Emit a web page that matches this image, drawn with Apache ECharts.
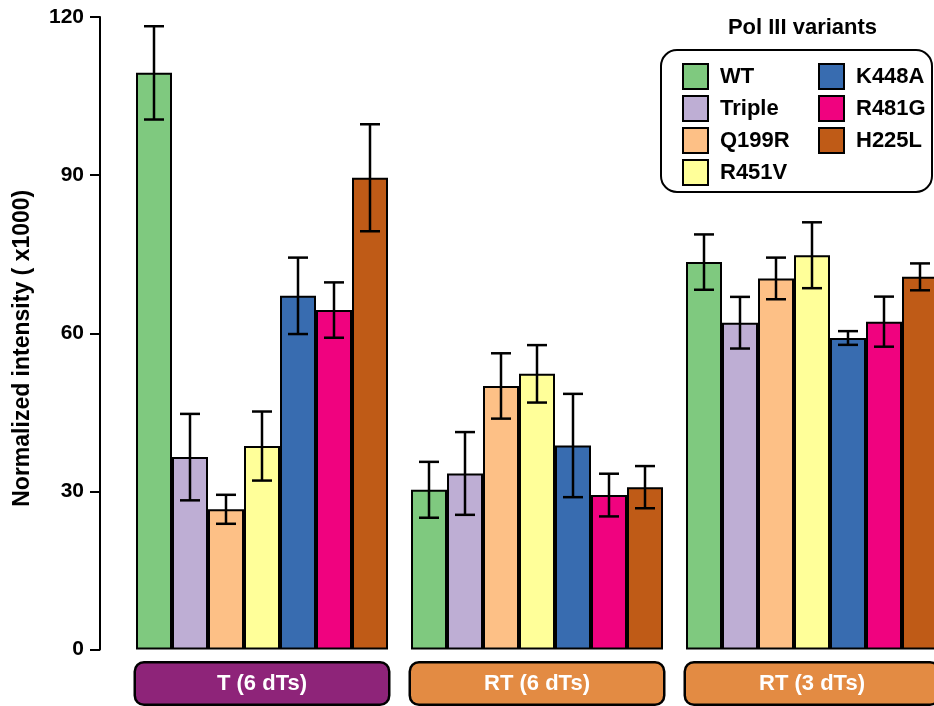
<!DOCTYPE html>
<html>
<head>
<meta charset="utf-8">
<script src="https://cdn.jsdelivr.net/npm/echarts@6/dist/echarts.min.js"></script>
<style>
  html, body { margin: 0; padding: 0; background: #ffffff; overflow: hidden; }
  #chart { width: 950px; height: 706px; }
</style>
</head>
<body>
<div id="chart"></div>
<script>
// Conditions along the x axis and Pol III variants within each group
const categories = ['T (6 dTs)', 'RT (6 dTs)', 'RT (3 dTs)'];
const variants = ['WT', 'Triple', 'Q199R', 'R451V', 'K448A', 'R481G', 'H225L'];
const yTicks = [0, 30, 60, 90, 120];

// Mean normalized intensity (x1000) per condition
const meanWT    = [109.4, 30.3, 73.5];
const meanTriple = [36.5, 33.4, 62.0];
const meanQ199R = [26.6, 50.0, 70.4];
const meanR451V = [38.6, 52.3, 74.8];
const meanK448A = [67.1, 38.7, 59.1];
const meanR481G = [64.4, 29.3, 62.2];
const meanH225L = [89.5, 30.8, 70.7];

// Error half-widths per condition
const errWT    = [8.85, 5.3, 5.25];
const errTriple = [8.2, 7.85, 4.9];
const errQ199R = [2.75, 6.2, 3.95];
const errR451V = [6.55, 5.45, 6.25];
const errK448A = [7.25, 9.8, 1.3];
const errR481G = [5.25, 4.05, 4.75];
const errH225L = [10.15, 4.0, 2.55];

const means = [meanWT, meanTriple, meanQ199R, meanR451V, meanK448A, meanR481G, meanH225L];
const errs = [errWT, errTriple, errQ199R, errR451V, errK448A, errR481G, errH225L];

// Accent palette for the variants
const palette = ['#7FC97F', '#BEAED4', '#FDC086', '#FFFF99', '#386CB0', '#F0027F', '#BF5B17'];
const FONT = "'Liberation Sans', Arial, Helvetica, sans-serif";
const CAT_GAP = 23 / 275;

const chart = echarts.init(document.getElementById('chart'), null, { renderer: 'canvas' });

function errorRenderer(k) {
  return function (params, api) {
    const cat = api.value(0);
    const lo = api.coord([cat, api.value(1)]);
    const hi = api.coord([cat, api.value(2)]);
    const catW = api.size([1, 0])[0];
    const barW = catW * (1 - CAT_GAP) / variants.length;
    const x = lo[0] + (k - (variants.length - 1) / 2) * barW;
    const cap = 10;
    const style = { stroke: '#000', lineWidth: 2.5 };
    return {
      type: 'group',
      children: [
        { type: 'line', shape: { x1: x, y1: hi[1], x2: x, y2: lo[1] }, style: style },
        { type: 'line', shape: { x1: x - cap, y1: hi[1], x2: x + cap, y2: hi[1] }, style: style },
        { type: 'line', shape: { x1: x - cap, y1: lo[1], x2: x + cap, y2: lo[1] }, style: style }
      ]
    };
  };
}

const barSeries = variants.map((name, k) => ({
  name: name,
  type: 'bar',
  data: means[k],
  barGap: '0%',
  barCategoryGap: (CAT_GAP * 100) + '%',
  itemStyle: { color: palette[k], borderColor: '#000', borderWidth: 2 },
  emphasis: { disabled: true },
  z: 2
}));

const errSeries = variants.map((name, k) => ({
  type: 'custom',
  name: name + ' error',
  renderItem: errorRenderer(k),
  data: categories.map((c, i) => [i, means[k][i] - errs[k][i], means[k][i] + errs[k][i]]),
  encode: { x: 0, y: [1, 2] },
  z: 3,
  silent: true
}));

const legendBase = {
  orient: 'vertical',
  top: 63,
  padding: 0,
  itemWidth: 25,
  itemHeight: 25,
  itemGap: 5,
  icon: 'rect',
  selectedMode: false,
  itemStyle: { borderColor: '#000', borderWidth: 2 },
  textStyle: { fontFamily: FONT, fontSize: 22, fontWeight: 'bold', color: '#000', padding: [0, 0, 0, 7] }
};

const stripLabel = {
  borderColor: '#000', borderWidth: 2.5, borderRadius: 8,
  width: 252, height: 40, lineHeight: 40, align: 'center',
  color: '#fff', fontFamily: FONT, fontSize: 22, fontWeight: 'bold'
};

const option = {
  animation: false,
  backgroundColor: '#ffffff',
  grid: { left: 124.5, right: 0.5, top: 17, bottom: 55, containLabel: false },
  xAxis: {
    type: 'category',
    data: categories,
    axisLine: { show: false },
    axisTick: { show: false },
    axisLabel: {
      interval: 0,
      margin: 14,
      formatter: (v, i) => '{' + (i === 0 ? 'p' : 'o') + '|' + v + '}',
      rich: {
        p: Object.assign({ backgroundColor: '#8E2479' }, stripLabel),
        o: Object.assign({ backgroundColor: '#E38B43' }, stripLabel)
      }
    }
  },
  yAxis: {
    type: 'value',
    min: yTicks[0],
    max: yTicks[yTicks.length - 1],
    interval: yTicks[1] - yTicks[0],
    offset: 24.5,
    splitLine: { show: false },
    axisLine: { show: true, lineStyle: { color: '#000', width: 2 } },
    axisTick: { show: true, length: 10, lineStyle: { color: '#000', width: 2 } },
    axisLabel: { margin: 16, color: '#000', fontFamily: FONT, fontSize: 21, fontWeight: 'bold' },
    name: 'Normalized intensity ( x1000)',
    nameLocation: 'middle',
    nameRotate: 90,
    nameGap: 66,
    nameTextStyle: {
      color: '#000', fontFamily: FONT, fontSize: 23, fontWeight: 'bold',
      padding: [0, 30, 0, 0]
    }
  },
  legend: [
    Object.assign({}, legendBase, { data: variants.slice(0, 4), left: 682 }),
    Object.assign({}, legendBase, { data: variants.slice(4), left: 818 })
  ],
  graphic: [
    {
      type: 'rect', z: 0,
      shape: { x: 661, y: 50, width: 271, height: 142, r: 16 },
      style: { fill: '#fff', stroke: '#000', lineWidth: 2 }
    },
    {
      type: 'text', z: 1,
      style: {
        x: 802.5, y: 28, text: 'Pol III variants', textAlign: 'center', textVerticalAlign: 'middle',
        font: 'bold 22px ' + FONT, fill: '#000'
      }
    }
  ],
  series: barSeries.concat(errSeries)
};

chart.setOption(option);
</script>
</body>
</html>
